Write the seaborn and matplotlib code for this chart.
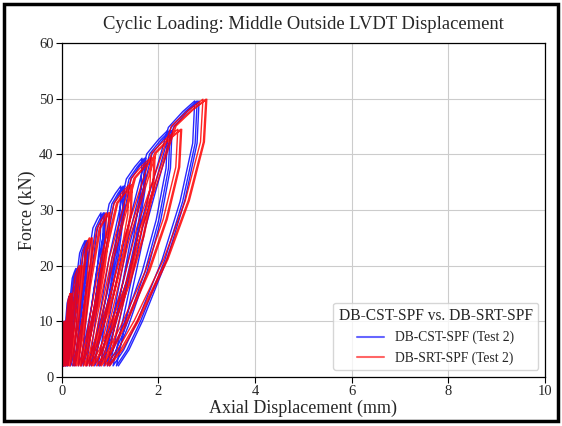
import matplotlib
matplotlib.use("Agg")
import matplotlib.pyplot as plt
import numpy as np
import pandas as pd
import seaborn as sns
from matplotlib.patches import Rectangle

# ---- test data -------------------------------------------------------------
# peak force of every load level (kN), three cycles per level
cst_peak_force = [10, 14.5, 19.5, 24.5, 29.5, 34.3, 39.3, 44.3, 49.6]
srt_peak_force = [10, 15.0, 20.0, 25.0, 29.5, 34.5, 39.5, 44.5, 49.9]

# displacement at the peak of every cycle (mm)
cst_peak_disp = [0.04, 0.05, 0.06, 0.15, 0.18, 0.20, 0.29, 0.32, 0.34,
                 0.48, 0.51, 0.54, 0.81, 0.86, 0.89, 1.22, 1.27, 1.30,
                 1.66, 1.71, 1.74, 2.19, 2.24, 2.28, 2.75, 2.80, 2.84]
srt_peak_disp = [0.05, 0.07, 0.08, 0.17, 0.20, 0.22, 0.36, 0.40, 0.42,
                 0.57, 0.61, 0.63, 0.92, 0.97, 0.99, 1.39, 1.44, 1.46,
                 1.85, 1.91, 1.93, 2.40, 2.46, 2.48, 2.92, 2.98, 3.00]

# residual displacement at the end of each unloading (mm)
cst_end_disp = [0.008, 0.015, 0.02, 0.03, 0.04, 0.05, 0.08, 0.10, 0.12,
                0.18, 0.23, 0.27, 0.34, 0.40, 0.44, 0.51, 0.57, 0.61,
                0.68, 0.75, 0.79, 0.87, 0.94, 0.99, 1.06, 1.13, 1.17]
srt_end_disp = [0.015, 0.025, 0.03, 0.05, 0.07, 0.08, 0.12, 0.15, 0.17,
                0.23, 0.27, 0.30, 0.34, 0.38, 0.40, 0.45, 0.49, 0.52,
                0.57, 0.62, 0.65, 0.72, 0.78, 0.82, 0.89, 0.95, 0.99]

# minimum (seating) force of every cycle (kN)
min_force = 2.0

# normalised shape of the loading and unloading branches
load_u = [0.0, 0.35, 0.69, 0.86, 1.0]
load_v = [0.0, 0.52, 0.90, 0.96, 1.0]
unload_u = [1.0, 0.975, 0.82, 0.60, 0.30, 0.13, 0.0]
unload_v = [1.0, 0.84, 0.62, 0.40, 0.17, 0.06, 0.0]

labels = ["DB-CST-SPF (Test 2)", "DB-SRT-SPF (Test 2)"]


def hysteresis(peak_force, peak_disp, end_disp):
    """Trace the load/unload loops of one specimen in test order."""
    disp, force = [], []
    start = 0.0
    for i, (xp, xe) in enumerate(zip(peak_disp, end_disp)):
        fp = peak_force[i // 3]
        for u, v in zip(load_u, load_v):
            disp.append(start + u * (xp - start))
            force.append(min_force + v * (fp - min_force))
        for u, v in zip(unload_u[1:], unload_v[1:]):
            disp.append(xe + u * (xp - xe))
            force.append(min_force + v * (fp - min_force))
        start = xe
    return disp, force


frames = []
for lab, pf, pd_, ed in [(labels[0], cst_peak_force, cst_peak_disp, cst_end_disp),
                         (labels[1], srt_peak_force, srt_peak_disp, srt_end_disp)]:
    d, f = hysteresis(pf, pd_, ed)
    frames.append(pd.DataFrame({"disp": d, "force": f, "specimen": lab,
                                "step": np.arange(len(d))}))
df = pd.concat(frames, ignore_index=True)

# ---- figure ----------------------------------------------------------------
sns.set_style("ticks")
plt.rcParams["font.family"] = ["Liberation Serif", "DejaVu Serif"]

fig = plt.figure(figsize=(5.62, 4.26), dpi=100)
ax = fig.add_axes([0.110, 0.115, 0.860, 0.784])

sns.lineplot(data=df, x="disp", y="force", hue="specimen", units="specimen",
             estimator=None, sort=False,
             palette={labels[0]: "#0000ff", labels[1]: "#ff0000"},
             linewidth=1.0, alpha=0.85, ax=ax)

ax.set_xlim(0, 10)
ax.set_ylim(0, 60)
ax.set_xticks(np.arange(0, 11, 2))
ax.set_yticks(np.arange(0, 61, 10))
ax.grid(True, color="#cccccc", linewidth=0.8)
ax.set_axisbelow(True)
for s in ax.spines.values():
    s.set_color("black")
    s.set_linewidth(0.9)
ax.tick_params(labelsize=10.5, length=4, width=0.8, color="black", pad=2)

ax.set_title("Cyclic Loading: Middle Outside LVDT Displacement", fontsize=13.4, pad=10)
ax.set_xlabel("Axial Displacement (mm)", fontsize=13, labelpad=1)
ax.set_ylabel("Force (kN)", fontsize=13, labelpad=2)

leg = ax.legend(title="DB-CST-SPF vs. DB-SRT-SPF", loc="lower right",
                fontsize=9.8, title_fontsize=11.2)
for line in leg.get_lines():
    line.set_linewidth(1.5)
    line.set_alpha(0.6)

fig.patches.append(Rectangle((0.008, 0.011), 0.984, 0.980, transform=fig.transFigure,
                             fill=False, edgecolor="black", linewidth=2.5))

fig.savefig("out.png", dpi=100)
